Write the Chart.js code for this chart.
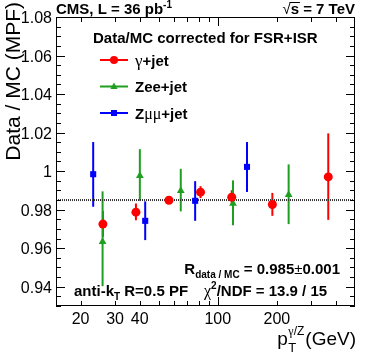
<!DOCTYPE html>
<html>
<head>
<meta charset="utf-8">
<script src="https://cdn.jsdelivr.net/npm/chart.js@4.4.1/dist/chart.umd.min.js"></script>
<style>
  html, body { margin: 0; padding: 0; background: #fff; }
  #wrap { width: 374px; height: 359px; position: relative; }
</style>
</head>
<body>
<div id="wrap"><canvas id="c"></canvas></div>
<script>
'use strict';

/* datos: pT (GeV), razón Data/MC y extremos de la barra de error */
const gammaPt = [26.0, 38.3, 56.4, 81.7, 117.8, 189.7, 365.4];
const gammaR  = [0.9725, 0.9787, 0.9849, 0.9891, 0.9865, 0.9827, 0.9970];
const gammaLo = [0.9659, 0.9745, 0.9840, 0.9860, 0.9832, 0.9768, 0.9747];
const gammaHi = [0.9794, 0.9832, 0.9858, 0.9922, 0.9901, 0.9887, 1.0196];

const zeePt = [25.9, 40.1, 64.8, 119.6, 229.6];
const zeeR  = [0.9633, 0.9976, 0.9898, 0.9832, 0.9877];
const zeeLo = [0.9403, 0.9846, 0.9791, 0.9719, 0.9725];
const zeeHi = [0.9895, 1.0114, 1.0012, 0.9952, 1.0035];

const zmmPt = [23.2, 42.7, 76.7, 140.9];
const zmmR  = [0.9984, 0.9742, 0.9846, 1.0022];
const zmmLo = [0.9815, 0.9642, 0.9742, 0.9892];
const zmmHi = [1.0151, 0.9843, 0.9948, 1.0151];

const fitR = 0.985;

/* ejes */
const xMin = 15, xMax = 500;
const yMin = 0.93, yMax = 1.08;
const xTicks = [20, 30, 40, 50, 60, 70, 80, 90, 100, 200, 300, 400];
const xMajor = [100];
const xLabels = [20, 30, 40, 100, 200];
const yLabels = [0.94, 0.96, 0.98, 1.00, 1.02, 1.04, 1.06, 1.08];
const yLabelText = ['0.94', '0.96', '0.98', '1', '1.02', '1.04', '1.06', '1.08'];

const RED = '#ff0000', GREEN = '#1f9f1f', BLUE = '#0000ff';
const SANS = '"Liberation Sans", Arial, sans-serif';
const SERIF = '"Liberation Serif", "DejaVu Serif", serif';

const pts = (xs, ys) => xs.map((x, i) => ({ x, y: ys[i] }));

/* texto con trozos de distinta fuente */
function rich(ctx, x, y, parts, align = 'left') {
  let w = 0;
  parts.forEach(p => { ctx.font = p.f; p.w = ctx.measureText(p.t).width; if (!p.stack) w += p.w; });
  let cx = align === 'right' ? x - w : x;
  ctx.textAlign = 'left';
  ctx.textBaseline = 'alphabetic';
  parts.forEach(p => {
    ctx.font = p.f;
    ctx.fillStyle = p.c || '#000';
    ctx.fillText(p.t, cx, y + (p.dy || 0));
    if (!p.stack) cx += p.w;
  });
  return cx;
}

function marker(ctx, style, x, y, r, col) {
  ctx.fillStyle = col;
  ctx.beginPath();
  if (style === 'circle') ctx.arc(x, y, r, 0, Math.PI * 2);
  else if (style === 'triangle') { ctx.moveTo(x, y - r); ctx.lineTo(x + r * 0.9, y + r * 0.6); ctx.lineTo(x - r * 0.9, y + r * 0.6); ctx.closePath(); }
  else ctx.rect(x - r, y - r, 2 * r, 2 * r);
  ctx.fill();
}

/* barras de error, bajo los marcadores */
const errorBars = {
  id: 'errorBars',
  beforeDatasetsDraw(chart) {
    const { ctx, scales: { x, y } } = chart;
    ctx.save();
    chart.data.datasets.forEach(ds => {
      if (!ds.yLo) return;
      ctx.strokeStyle = ds.backgroundColor;
      ctx.lineWidth = 2;
      ds.data.forEach((p, i) => {
        const px = x.getPixelForValue(p.x);
        ctx.beginPath();
        ctx.moveTo(px, y.getPixelForValue(ds.yLo[i]));
        ctx.lineTo(px, y.getPixelForValue(ds.yHi[i]));
        ctx.stroke();
      });
    });
    ctx.restore();
  }
};

/* marco estilo ROOT, marcas hacia dentro, etiquetas y textos */
const rootFrame = {
  id: 'rootFrame',
  afterDraw(chart) {
    const { ctx, chartArea: a, scales: { x, y } } = chart;
    ctx.save();
    ctx.strokeStyle = '#000';
    ctx.lineWidth = 1;
    ctx.strokeRect(a.left + 0.5, a.top + 0.5, a.right - a.left - 1, a.bottom - a.top - 1);

    ctx.beginPath();
    for (let k = 0; k <= 30; k++) {
      const v = yMin + k * 0.005;
      const py = Math.round(y.getPixelForValue(v)) + 0.5;
      const len = (k % 4 === 2) ? 9 : 5;
      ctx.moveTo(a.left, py); ctx.lineTo(a.left + len, py);
      ctx.moveTo(a.right, py); ctx.lineTo(a.right - len, py);
    }
    xTicks.forEach(t => {
      const px = Math.round(x.getPixelForValue(t)) + 0.5;
      const len = xMajor.includes(t) ? 9 : 5;
      ctx.moveTo(px, a.bottom); ctx.lineTo(px, a.bottom - len);
      ctx.moveTo(px, a.top); ctx.lineTo(px, a.top + len);
    });
    ctx.stroke();

    ctx.fillStyle = '#000';
    ctx.font = '16px ' + SANS;
    ctx.textAlign = 'right';
    ctx.textBaseline = 'alphabetic';
    yLabels.forEach((v, i) => ctx.fillText(yLabelText[i], a.left - 4, y.getPixelForValue(v) + 6));
    ctx.textAlign = 'center';
    xLabels.forEach(v => ctx.fillText(String(v), x.getPixelForValue(v), a.bottom + 18));

    /* título eje y */
    ctx.save();
    ctx.translate(20, 2);
    ctx.rotate(-Math.PI / 2);
    ctx.font = '21px ' + SANS;
    ctx.textAlign = 'right';
    ctx.fillText('Data / MC (MPF)', 0, 0);
    ctx.restore();

    /* título eje x */
    const B = 'bold 15px ' + SANS;
    ctx.font = '19px ' + SANS;
    const gw = ctx.measureText('(GeV)').width;
    ctx.textAlign = 'right';
    ctx.fillText('(GeV)', 356, 345);
    ctx.font = '12px ' + SERIF;
    const sw = ctx.measureText('γ/Z').width;
    const sx = 356 - gw - sw - 1;
    rich(ctx, sx, 345, [{ t: 'γ', f: '12px ' + SERIF, dy: -10 }, { t: '/Z', f: '12px ' + SANS, dy: -10 }]);
    rich(ctx, sx, 345, [{ t: 'T', f: '13px ' + SANS, dy: 7 }]);
    ctx.font = '19px ' + SANS;
    ctx.textAlign = 'right';
    ctx.fillText('p', sx - 0.5, 345);

    /* cabecera */
    rich(ctx, 56, 14, [{ t: 'CMS, L = 36 pb', f: B }, { t: '-1', f: 'bold 10px ' + SANS, dy: -6 }]);
    const endS = rich(ctx, 355, 14, [{ t: '√', f: '15px ' + SANS }, { t: 's = 7 TeV', f: B }], 'right');
    ctx.font = B;
    ctx.textAlign = 'left';
    const sStart = 355 - ctx.measureText('s = 7 TeV').width;
    ctx.beginPath();
    ctx.moveTo(sStart - 1, 2.5); ctx.lineTo(sStart + ctx.measureText('s').width + 1, 2.5);
    ctx.stroke();

    /* leyenda */
    rich(ctx, 93, 43, [{ t: 'Data/MC corrected for FSR+ISR', f: B }]);
    const rows = [
      { col: RED, st: 'circle', r: 4, y: 60, parts: [{ t: 'γ', f: '17px ' + SERIF }, { t: '+jet', f: B }] },
      { col: GREEN, st: 'triangle', r: 4, y: 86.5, parts: [{ t: 'Zee+jet', f: B }] },
      { col: BLUE, st: 'rect', r: 3, y: 113, parts: [{ t: 'Z', f: B }, { t: 'μμ', f: '16px ' + SERIF }, { t: '+jet', f: B }] },
    ];
    rows.forEach(r => {
      ctx.strokeStyle = r.col;
      ctx.lineWidth = 2;
      ctx.beginPath(); ctx.moveTo(100, r.y); ctx.lineTo(128, r.y); ctx.stroke();
      marker(ctx, r.st, 114, r.y, r.r, r.col);
      rich(ctx, 135, r.y + 5.5, r.parts);
    });

    /* resultado del ajuste */
    rich(ctx, 340, 274, [
      { t: 'R', f: B }, { t: 'data / MC', f: 'bold 10px ' + SANS, dy: 4 },
      { t: ' = 0.985', f: B }, { t: '±', f: '15px ' + SANS }, { t: '0.001', f: B }], 'right');
    rich(ctx, 74, 296, [{ t: 'anti-k', f: B }, { t: 'T', f: 'bold 10px ' + SANS, dy: 4 }, { t: ' R=0.5 PF', f: B }]);
    rich(ctx, 204, 296, [{ t: 'χ', f: '16px ' + SERIF }, { t: '2', f: 'bold 10px ' + SANS, dy: -7 }, { t: '/NDF = 13.9 / 15', f: B }]);
    ctx.restore();
  }
};

new Chart(document.getElementById('c'), {
  type: 'scatter',
  data: {
    datasets: [
      { label: 'γ+jet', data: pts(gammaPt, gammaR), yLo: gammaLo, yHi: gammaHi, backgroundColor: RED, borderColor: RED,
        pointStyle: 'circle', pointRadius: 4.5, borderWidth: 0, order: 1 },
      { label: 'Zee+jet', data: pts(zeePt, zeeR), yLo: zeeLo, yHi: zeeHi, backgroundColor: GREEN, borderColor: GREEN,
        pointStyle: 'triangle', pointRadius: 4.5, borderWidth: 0, order: 2 },
      { label: 'Zμμ+jet', data: pts(zmmPt, zmmR), yLo: zmmLo, yHi: zmmHi, backgroundColor: BLUE, borderColor: BLUE,
        pointStyle: 'rect', pointRadius: 4.3, borderWidth: 0, order: 3 },
      { type: 'line', label: 'fit', data: [{ x: xMin, y: fitR }, { x: xMax, y: fitR }], borderColor: '#333',
        borderWidth: 2, borderDash: [1, 1], pointRadius: 0, order: 10 },
    ],
  },
  options: {
    responsive: true, maintainAspectRatio: false, animation: false,
    layout: { padding: { left: 56, right: 19, top: 17, bottom: 53 } },
    plugins: { legend: { display: false }, tooltip: { enabled: false } },
    scales: {
      x: { type: 'logarithmic', min: xMin, max: xMax, display: false },
      y: { type: 'linear', min: yMin, max: yMax, display: false },
    },
  },
  plugins: [errorBars, rootFrame],
});
</script>
</body>
</html>
